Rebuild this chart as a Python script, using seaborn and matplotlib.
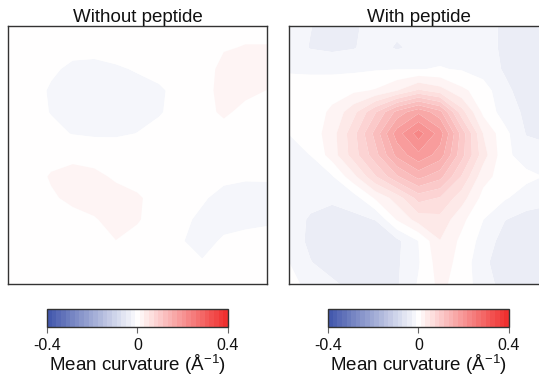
import numpy as np
import matplotlib
matplotlib.use("Agg")
import matplotlib.pyplot as plt
import seaborn as sns

sns.set_theme(style="white")
plt.rcParams["font.family"] = ["Liberation Sans", "DejaVu Sans"]
plt.rcParams["mathtext.fontset"] = "custom"
plt.rcParams["mathtext.rm"] = "Liberation Sans"
plt.rcParams["mathtext.it"] = "Liberation Sans:italic"

# Membrane mean curvature (1/Angstrom) sampled on a 13 x 13 grid, rows top to bottom
titles = ["Without peptide", "With peptide"]
x_nodes = np.arange(13)
y_nodes = np.arange(13)

curv_without = [
    [0, 0, 0, 0, 0, 0, 0, 0, 0, 0, 0.003, 0.006, 0.006],
    [0, -0.002, -0.003, -0.006, -0.006, -0.004, -0.002, 0, 0, 0.002, 0.009, 0.011, 0.011],
    [0, -0.002, -0.008, -0.013, -0.014, -0.012, -0.009, -0.004, 0, 0.003, 0.015, 0.016, 0.015],
    [0, -0.004, -0.012, -0.016, -0.017, -0.016, -0.015, -0.013, -0.004, 0.004, 0.016, 0.014, 0.010],
    [0, -0.004, -0.011, -0.016, -0.018, -0.017, -0.014, -0.012, -0.003, 0.005, 0.013, 0.006, 0.002],
    [0, -0.002, -0.006, -0.011, -0.013, -0.012, -0.010, -0.004, 0, 0.002, 0.004, 0.001, 0],
    [0, 0, 0.004, 0.006, 0.004, -0.002, -0.002, 0, 0, 0, 0, 0, 0],
    [0, 0.002, 0.012, 0.016, 0.014, 0.008, 0.002, 0, 0, 0, -0.006, -0.008, -0.008],
    [0, 0, 0.008, 0.014, 0.017, 0.016, 0.013, 0.002, -0.002, -0.008, -0.016, -0.018, -0.017],
    [0, 0, 0.002, 0.005, 0.009, 0.016, 0.012, 0.001, -0.006, -0.014, -0.016, -0.014, -0.013],
    [0, 0, 0, 0, 0.006, 0.010, 0.004, 0, -0.009, -0.016, -0.008, -0.006, -0.004],
    [0, 0, 0, 0, 0, 0.003, 0, 0, -0.006, -0.009, -0.002, 0, 0],
    [0, 0, 0, 0, 0, 0, 0, 0, 0, 0, 0, 0, 0],
]

curv_with = [
    [-0.020, -0.030, -0.040, -0.035, -0.020, -0.025, -0.020, -0.015, -0.018, -0.020, -0.036, -0.035, -0.025],
    [-0.020, -0.032, -0.035, -0.032, -0.022, -0.033, -0.025, -0.018, -0.018, -0.020, -0.036, -0.040, -0.040],
    [-0.013, -0.014, -0.015, -0.014, -0.012, -0.011, -0.011, -0.009, -0.012, -0.020, -0.033, -0.040, -0.040],
    [0.000, 0.000, 0.003, 0.006, 0.012, 0.030, 0.055, 0.040, 0.015, 0.000, -0.026, -0.040, -0.040],
    [-0.004, 0.000, 0.014, 0.045, 0.090, 0.140, 0.170, 0.140, 0.060, 0.005, -0.020, -0.035, -0.040],
    [-0.010, -0.002, 0.022, 0.065, 0.120, 0.185, 0.225, 0.185, 0.105, 0.030, -0.004, -0.032, -0.035],
    [-0.015, -0.010, 0.020, 0.062, 0.105, 0.160, 0.190, 0.165, 0.100, 0.040, -0.005, -0.020, -0.025],
    [-0.020, -0.018, -0.012, 0.025, 0.070, 0.110, 0.140, 0.120, 0.070, 0.018, 0.000, -0.005, -0.012],
    [-0.020, -0.025, -0.022, -0.020, 0.013, 0.040, 0.080, 0.070, 0.040, 0.003, -0.008, -0.020, -0.025],
    [-0.022, -0.033, -0.050, -0.036, -0.030, 0.012, 0.040, 0.045, 0.016, -0.010, -0.030, -0.038, -0.040],
    [-0.020, -0.035, -0.042, -0.040, -0.050, -0.036, -0.010, 0.030, 0.005, -0.018, -0.040, -0.050, -0.045],
    [-0.010, -0.030, -0.038, -0.042, -0.048, -0.034, -0.012, 0.022, 0.002, -0.025, -0.045, -0.048, -0.045],
    [0.000, -0.020, -0.028, -0.036, -0.040, -0.033, -0.008, 0.016, 0.000, -0.020, -0.040, -0.040, -0.040],
]

cbar_ticks = [-0.4, 0.0, 0.4]
cbar_ticklabels = ["-0.4", "0", "0.4"]
cbar_label = "Mean curvature (Å$^{-1}$)"
vmin, vmax = -0.4, 0.4
n_levels = 40

cmap = sns.blend_palette(["#4055ab", "#ffffff", "#ef2b2a"], as_cmap=True)
levels = np.linspace(vmin, vmax, n_levels)

fig = plt.figure(figsize=(5.39, 3.78), dpi=100)
ax_pos = [[0.0148, 0.2487, 0.4805, 0.6825], [0.5362, 0.2487, 0.4805, 0.6825]]
cb_pos = [[0.0872, 0.1349, 0.3358, 0.0476], [0.6085, 0.1349, 0.3358, 0.0476]]

for k, (title, field) in enumerate(zip(titles, [curv_without, curv_with])):
    ax = fig.add_axes(ax_pos[k])
    cs = ax.contourf(x_nodes, y_nodes, np.array(field), levels=levels,
                     cmap=cmap, vmin=vmin, vmax=vmax, antialiased=True)
    ax.set_xlim(0, 12)
    ax.set_ylim(12, 0)
    ax.set_xticks([])
    ax.set_yticks([])
    for s in ax.spines.values():
        s.set_visible(True)
        s.set_color("#333333")
        s.set_linewidth(1.0)
    ax.set_title(title, fontsize=13.5, pad=3, color="#111111")

    cax = fig.add_axes(cb_pos[k])
    cb = fig.colorbar(cs, cax=cax, orientation="horizontal", ticks=cbar_ticks)
    cb.ax.set_xticklabels(cbar_ticklabels)
    cb.ax.tick_params(axis="x", bottom=True, length=4, width=0.8, color="#666666",
                      labelsize=11.5, pad=4, labelcolor="#111111")
    cb.outline.set_edgecolor("#333333")
    cb.outline.set_linewidth(1.0)
    cb.set_label(cbar_label, fontsize=13.5, labelpad=0, color="#111111")

fig.savefig("out.png", dpi=100)
